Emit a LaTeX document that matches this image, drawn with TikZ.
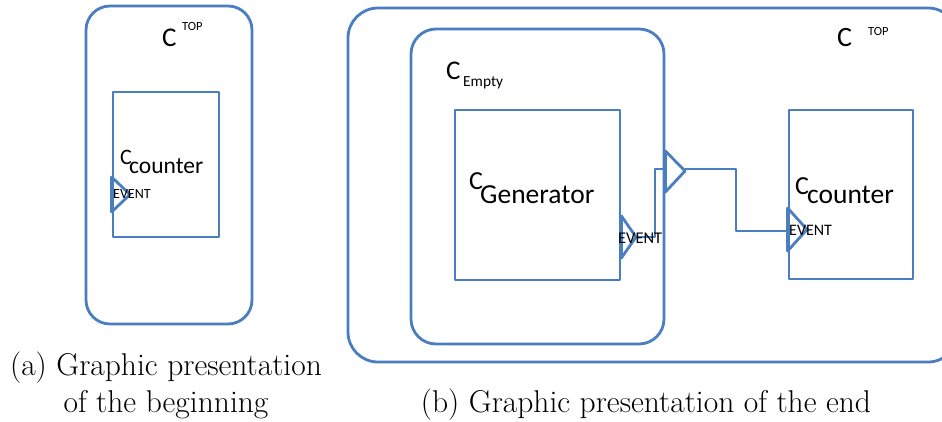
\documentclass[tikz,border=0pt]{standalone}
\usepackage{fontspec}
\newfontfamily\lab{Carlito}
\definecolor{pblue}{RGB}{74,126,193}
\begin{document}
\begin{tikzpicture}[x=1pt,y=-1pt,
  line/.style={draw=pblue,line width=2.8pt,line join=round},
  cbox/.style={line,rounded corners=#1,inner sep=0},
  sbox/.style={line,inner sep=0},
  txt/.style={anchor=base west,inner sep=0,text=black},
  capt/.style={anchor=base,inner sep=0,font=\fontsize{31.5}{37}\selectfont}]
\clip (0,0) rectangle (942,421);
\useasboundingbox (0,0) rectangle (942,421);
% ---------- (a) ----------
\node[cbox=24pt,minimum width=166pt,minimum height=318pt] (topA) at (169,165) {};
\node[sbox,minimum width=106pt,minimum height=145pt] (cntA) at (166,164.5) {};
\node[txt,font=\lab\fontsize{27}{24}\selectfont] (cA) at (162,46) {C};
\node[txt,font=\lab\fontsize{12.5}{12}\selectfont] (topAl) at (182,30) {TOP};
\node[txt,font=\lab\fontsize{22}{20}\selectfont] (ccA) at (120,164) {C};
\node[txt,font=\lab\fontsize{23.5}{24}\selectfont] (cntAl) at (129,173) {counter};
\coordinate (pAt) at (cntA.west |- 0,177);
\coordinate (pAb) at (cntA.west |- 0,212);
\coordinate (pAa) at (130,194.5);
\draw[line] (pAt) -- (pAa) -- (pAb) -- cycle;
\node[txt,font=\lab\fontsize{14}{14}\selectfont] (evA) at (113,198) {EVENT};
% ---------- (b) ----------
\node[cbox=30pt,minimum width=610pt,minimum height=354pt] (topB) at (653,185) {};
\node[cbox=25pt,minimum width=253pt,minimum height=315pt] (emp) at (537.5,186.5) {};
\node[sbox,minimum width=165pt,minimum height=170pt] (gen) at (537.5,195) {};
\node[sbox,minimum width=124pt,minimum height=169pt] (cntB) at (851,194.5) {};
\node[txt,font=\lab\fontsize{28}{23}\selectfont] (cB) at (837,46) {C};
\node[txt,font=\lab\fontsize{12.5}{12}\selectfont] (topBl) at (868,35) {TOP};
\node[txt,font=\lab\fontsize{27}{22}\selectfont] (cE) at (446,79) {C};
\node[txt,font=\lab\fontsize{15.4}{13}\selectfont] (empl) at (463,86) {Empty};
\node[txt,font=\lab\fontsize{26}{22}\selectfont] (cG) at (469,189) {C};
\node[txt,font=\lab\fontsize{27.5}{28}\selectfont] (genl) at (480,203) {Generator};
\node[txt,font=\lab\fontsize{26}{22}\selectfont] (cC) at (795,194) {C};
\node[txt,font=\lab\fontsize{27.5}{28}\selectfont] (cntBl) at (807,203) {counter};
% ports
\coordinate (gpt) at (gen.east |- 0,216);
\coordinate (gpb) at (gen.east |- 0,258);
\coordinate (gpa) at (636,237);
\draw[line] (gpt) -- (gpa) -- (gpb) -- cycle;
\coordinate (ept) at (emp.east |- 0,151);
\coordinate (epb) at (emp.east |- 0,192);
\coordinate (epa) at (685,171);
\draw[line] (ept) -- (epa) -- (epb) -- cycle;
\coordinate (cpt) at (cntB.west |- 0,208);
\coordinate (cpb) at (cntB.west |- 0,251);
\coordinate (cpa) at (807,229.5);
\draw[line] (cpt) -- (cpa) -- (cpb) -- cycle;
% wires
\coordinate (j1) at (655,169);
\coordinate (j2) at (736,231);
\draw[line] (gpa) -| (j1) -- (emp.east |- j1);
\draw[line] (epa |- 0,169) -| (j2) -- (cntB.west |- j2);
\node[txt,font=\lab\fontsize{16.4}{16}\selectfont] (evG) at (618,243) {EVENT};
\node[txt,font=\lab\fontsize{16}{16}\selectfont] (evC) at (789,235) {EVENT};
% captions
\node[capt] (capa1) at (166,375) {(a) Graphic presentation};
\node[capt] (capa2) at (166,412) {of the beginning};
\node[capt] (capb) at (646,412) {(b) Graphic presentation of the end};
\end{tikzpicture}
\end{document}
